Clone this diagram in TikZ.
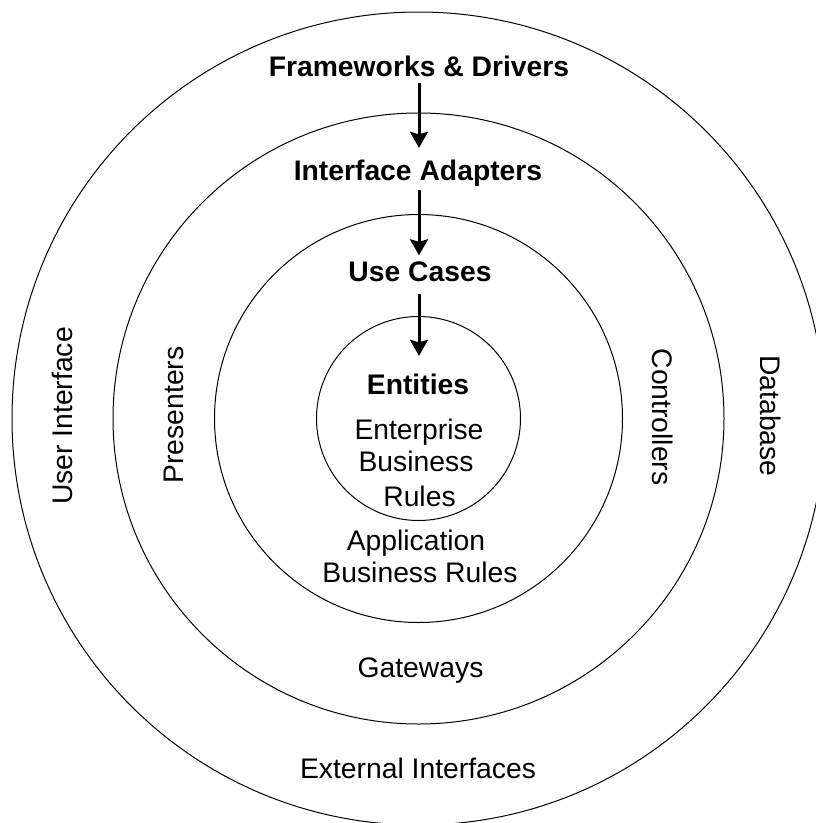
\documentclass[tikz,border=0pt]{standalone}
\usepackage{fontspec}
\setmainfont{Liberation Sans}
\usetikzlibrary{arrows.meta}
\begin{document}
\begin{tikzpicture}[x=1pt,y=-1pt,
  ring/.style={draw=black, line width=1pt},
  lbl/.style={font=\fontsize{28.3}{33.5}\selectfont, inner sep=0pt, text height=20pt, text depth=0pt, anchor=base},
  blbl/.style={lbl, font=\fontsize{28.3}{33.5}\selectfont\bfseries},
  arr/.style={-{Stealth[length=16pt,width=18pt,inset=2.5pt]}, line width=3pt}
]
\useasboundingbox (0,0) rectangle (816,823);
\fill[white] (0,0) rectangle (816,823);
\coordinate (c) at (418.5,418.5);
\draw[ring] (c) circle[radius=406.5pt];
\draw[ring] (c) circle[radius=305.5pt];
\draw[ring] (c) circle[radius=204pt];
\draw[ring] (c) circle[radius=102pt];

\node[blbl] (fd) at (419,76) {Frameworks \& Drivers};
\node[blbl] (ia) at (418,180) {Interface Adapters};
\node[blbl] (uc) at (420,281.5) {Use Cases};
\node[blbl] (en) at (418,394) {Entities};

\node[lbl] (ebr1) at (419,439) {Enterprise};
\node[lbl] (ebr2) at (416,471) {Business};
\node[lbl] (ebr3) at (419.5,506) {Rules};
\node[lbl] (abr1) at (416,550) {Application};
\node[lbl] (abr2) at (420,582) {Business Rules};
\node[lbl] (gw) at (420.5,677) {Gateways};
\node[lbl] (ei) at (418,778) {External Interfaces};

\node[lbl, rotate=90] (ui) at (72.5,416) {User Interface};
\node[lbl, rotate=90] (pr) at (183,415) {Presenters};
\node[lbl, rotate=-90] (co) at (652.5,417) {Controllers};
\node[lbl, rotate=-90] (db) at (760,416) {Database};

\draw[arr, shorten <=7pt, shorten >=12pt] (fd.south) -- (fd.south |- ia.north);
\draw[arr, shorten <=10pt, shorten >=6pt] (fd.south |- ia.south) -- (fd.south |- uc.north);
\draw[arr, shorten <=12pt, shorten >=18pt] (fd.south |- uc.south) -- (fd.south |- en.north);
\end{tikzpicture}
\end{document}
